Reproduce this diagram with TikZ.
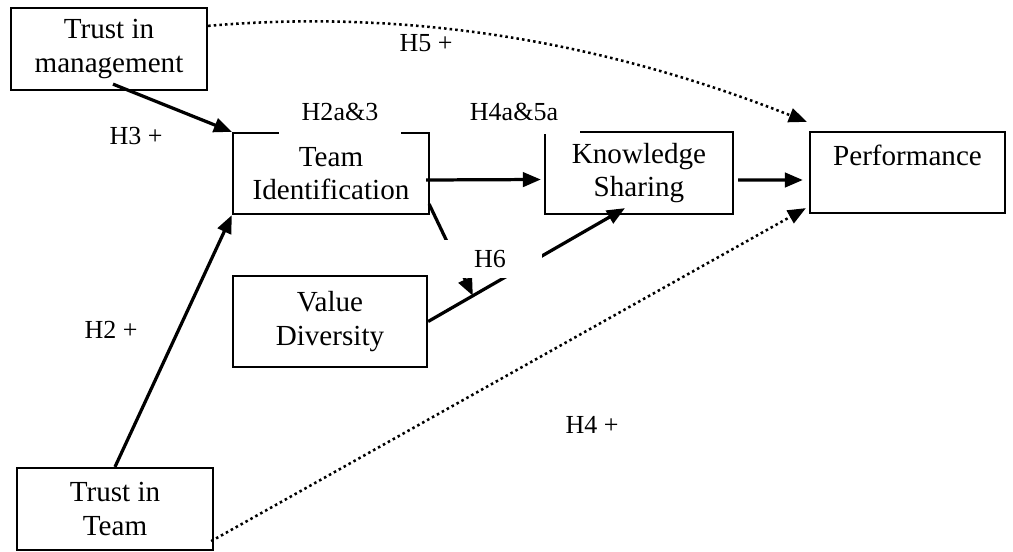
\documentclass[tikz,border=0pt]{standalone}
\usepackage{fontspec}
\setmainfont{Liberation Serif}
\usetikzlibrary{arrows.meta,calc}

\begin{document}
\begin{tikzpicture}[x=0.025cm, y=-0.025cm,
    construct/.style={draw, line width=1.6pt, align=center, inner sep=0pt,
        minimum height=2.05cm, font=\fontsize{20.7}{24}\selectfont},
    hyp/.style={fill=white, inner sep=0pt, font=\fontsize{18.5}{22}\selectfont},
    effect/.style={line width=2.3pt, -{Triangle[length=0.45cm, width=0.36cm]}},
    doteffect/.style={line width=1.8pt, dash pattern=on 1.8pt off 2.2pt,
        -{Triangle[length=0.45cm, width=0.36cm]}}]
    \useasboundingbox (0,0) rectangle (1013,552);

    % Constructs
    \node[construct, minimum width=4.9cm] (tm) at (109,49) {Trust in\\management};
    \node[construct, minimum width=4.9cm, minimum height=2.025cm] (ti) at (331,173.5) {Team\\Identification};
    \node[construct, minimum width=4.7cm] (ks) at (639,173) {Knowledge\\Sharing};
    \node[construct, minimum width=4.875cm, minimum height=2.025cm] (perf) at (907.5,172.5) {Performance\\\mbox{}};
    \node[construct, minimum width=4.85cm, minimum height=2.275cm] (vd) at (330,321.5) {Value\\Diversity};
    \node[construct, minimum width=4.9cm] (tt) at (115,509) {Trust in\\Team};

    % Direct effects
    \draw[effect] ($(tm.south)+(4,-7)$) -- (ti.north west);
    \draw[effect] (tt.north) -- (ti.south west);
    \draw[effect] ($(ti.east)+(-4,6.5)$) -- ($(ks.west)+(-3,6.5)$);
    \draw[effect] ($(ks.east)+(4,7)$) -- ($(perf.west)+(-6,7.5)$);

    % Moderation by value diversity
    \coordinate (ksin) at ($(ks.south)+(-14,-7)$);
    \draw[effect] (vd.east) -- (ksin);
    \draw[effect] ($(ti.south east)+(-1,-11)$) -- ($(vd.east)!0.227!(ksin)$);

    % Dotted effects on performance
    \draw[doteffect] ($(tm.north east)+(0,19)$) .. controls (450,5) and (650,60) .. ($(perf.north west)+(-2,-9)$);
    \draw[doteffect] ($(tt.south east)+(-3,-10)$) -- ($(perf.south west)+(-3,-6)$);

    % Hypotheses
    \node[hyp] (h5) at (426,43) {H5 +};
    \node[hyp] (h3) at (136,136) {H3 +};
    \node[hyp, minimum width=3.025cm, minimum height=1.1cm] (h2a3) at (340,112) {H2a\&3};
    \node[hyp, minimum width=3.3cm, minimum height=1.1cm] (h4a5a) at (514,112) {H4a\&5a};
    \node[hyp, minimum width=2.6cm, minimum height=0.95cm] (h6) at (490,259) {H6};
    \node[hyp] (h2) at (111,330) {H2 +};
    \node[hyp] (h4) at (592,425) {H4 +};
\end{tikzpicture}
\end{document}
